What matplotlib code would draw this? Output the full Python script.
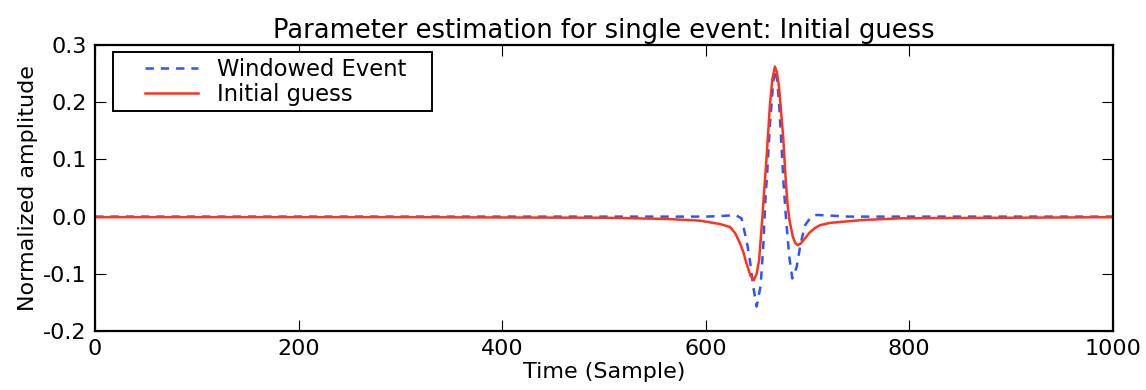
import matplotlib
matplotlib.use("Agg")
import matplotlib.pyplot as plt
from matplotlib.legend_handler import HandlerLine2D

# samples (time in samples, normalized amplitude)
event_t = [0, 600, 615, 624, 630, 635.2, 638.5, 641, 643.4, 646.7, 650.0, 653.9,
           656.5, 658.8, 660.5, 663.1, 666.4, 668.7, 670.5, 672.2, 674.6, 676.5,
           678.8, 682.1, 685.1, 689.4, 693.3, 697.6, 702.5, 709, 720, 740, 1000]
event_amp = [0.0, 0.0, 0.001, 0.002, 0.002, -0.003, -0.029, -0.05, -0.076, -0.122,
             -0.157, -0.122, -0.053, 0.035, 0.079, 0.160, 0.236, 0.256, 0.235,
             0.195, 0.119, 0.058, 0.0, -0.07, -0.108, -0.088, -0.047, -0.015,
             -0.003, 0.003, 0.002, 0.0, 0.0]

guess_t = [0, 300, 500, 560, 594, 614, 623.8, 629, 633.6, 637, 640.1, 644, 647.3,
           650, 652.5, 655.5, 657.5, 660, 663.1, 665.5, 668.0, 670, 672.2, 674,
           676.2, 678.8, 680.5, 682.3, 685.6, 688, 690.5, 693.5, 697.6, 702, 707.4,
           712.3, 722, 754, 791, 900, 1000]
guess_amp = [-0.001, -0.001, -0.002, -0.004, -0.007, -0.013, -0.018, -0.029, -0.046,
             -0.062, -0.082, -0.103, -0.111, -0.1, -0.076, -0.006, 0.046, 0.108,
             0.195, 0.24, 0.262, 0.252, 0.224, 0.185, 0.137, 0.059, 0.02, -0.006,
             -0.035, -0.046, -0.050, -0.047, -0.038, -0.028, -0.020, -0.015, -0.011,
             -0.006, -0.003, -0.002, -0.001]

x_ticks = [0, 200, 400, 600, 800, 1000]
y_ticks = [-0.2, -0.1, 0.0, 0.1, 0.2, 0.3]

plt.rcParams['axes.unicode_minus'] = False
plt.rcParams['lines.scale_dashes'] = False
plt.rcParams['font.size'] = 16

fig = plt.figure(figsize=(11.46, 3.9), dpi=100)
ax = fig.add_axes([0.083, 0.151, 0.888, 0.734])

l1, = ax.plot(event_t, event_amp, '--', color='#2a55ff', lw=1.8, dashes=(6, 5),
              label="Windowed Event")
l2, = ax.plot(guess_t, guess_amp, '-', color='#ff3318', lw=1.8, label="Initial guess")

ax.set_xlim(0, 1000)
ax.set_ylim(-0.2, 0.3)
ax.set_xticks(x_ticks)
ax.set_yticks(y_ticks)
ax.set_yticklabels(["%.1f" % v for v in y_ticks])
ax.tick_params(direction='in', length=8, width=0.8, top=True, right=True,
               labelsize=16, pad=6)
for s in ax.spines.values():
    s.set_linewidth(1.6)

ax.set_xlabel('Time (Sample)', fontsize=16, labelpad=2)
ax.set_ylabel('Normalized amplitude', fontsize=16)
ax.set_title('Parameter estimation for single event: Initial guess', fontsize=18.5, pad=5)

# legend box spans roughly x 113..432 px, top at 52 px in the reference
leg = ax.legend(loc='upper left', bbox_to_anchor=(0.0177, 0.0, 0.3133, 0.9755),
                mode='expand', fontsize=16.3, fancybox=False, framealpha=1,
                borderaxespad=0.0, handlelength=3.5, borderpad=0.25,
                labelspacing=0.1, handletextpad=0.84,
                handler_map={l1: HandlerLine2D(xpad=1.16), l2: HandlerLine2D(xpad=1.16)})
leg.get_frame().set_edgecolor('black')
leg.get_frame().set_linewidth(1.4)

plt.savefig('out.png', dpi=100)
plt.close()
